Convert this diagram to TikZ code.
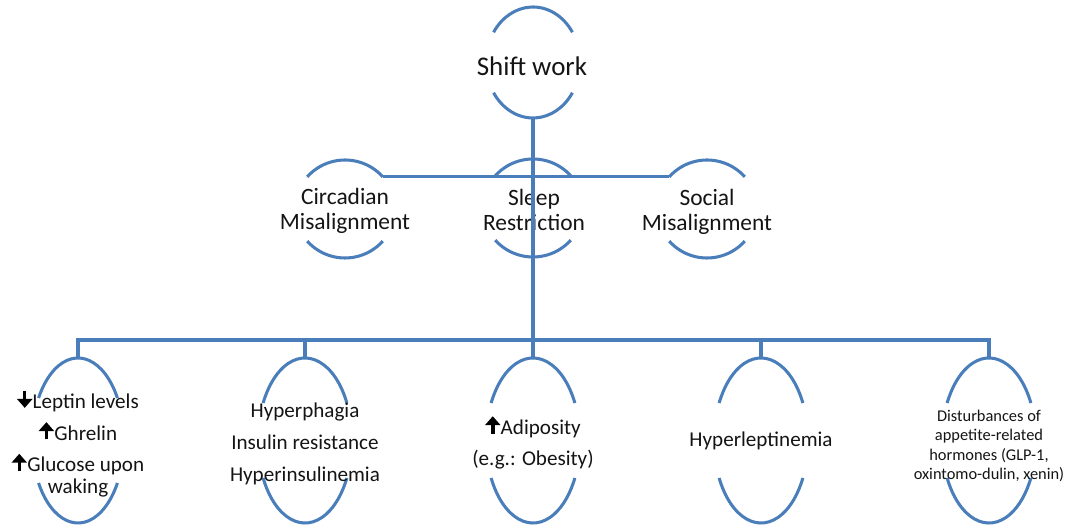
\documentclass[tikz,border=0pt]{standalone}
\usepackage{fontspec}
\setmainfont{Carlito}
\usetikzlibrary{calc,arrows.meta}
\definecolor{ln}{RGB}{74,126,187}
\definecolor{txt}{RGB}{20,20,20}
\newcommand\uparr{\tikz[baseline=-0.3pt]{\draw[draw=black, fill=black, line width=1.5pt, -{Triangle[length=3.8pt,width=6.4pt]}] (0,0) -- (0,7.4pt);}\hspace{0.2pt}}
\newcommand\dnarr{\tikz[baseline=-0.3pt]{\draw[draw=black, fill=black, line width=1.5pt, -{Triangle[length=3.8pt,width=6.4pt]}] (0,7.4pt) -- (0,0);}\hspace{0.2pt}}
% #1 name, #2 x, #3 y (px, downwards), #4 rx, #5 ry, #6 arc half-angle offset
\newcommand\ovalarcs[6]{%
  \coordinate (#1-c) at (#2,-#3);
  \draw[arcline] ($(#1-c)+(#6:#4 and #5)$) coordinate (#1-tr)
     arc[start angle=#6, end angle=180-#6, x radius=#4, y radius=#5] coordinate (#1-tl);
  \draw[arcline] ($(#1-c)+(180+#6:#4 and #5)$) coordinate (#1-bl)
     arc[start angle=180+#6, end angle=360-#6, x radius=#4, y radius=#5] coordinate (#1-br);
  \coordinate (#1-t) at ($(#1-c)+(0,#5)$);
  \coordinate (#1-b) at ($(#1-c)+(0,-#5)$);
}
\tikzset{
  arcline/.style={draw=ln, line width=1.3pt},
  conn/.style={draw=ln, line width=1.3pt},
  lbl/.style={align=center, inner sep=0pt, text=txt},
  t1/.style={lbl, font=\fontsize{11.5}{14}\selectfont},
  t2/.style={lbl, font=\fontsize{10}{10.8}\selectfont},
  t3/.style={lbl, font=\fontsize{9}{13.5}\selectfont},
  t4/.style={lbl, font=\fontsize{7}{8.3}\selectfont},
}
\begin{document}
\begin{tikzpicture}[x=0.015cm, y=0.015cm]
\useasboundingbox (0,0) rectangle (1068,-528);
% oval outlines
\ovalarcs{sw}{533}{62.5}{47}{55.5}{33}
\ovalarcs{ci}{345}{209}{50}{49}{41}
\ovalarcs{sr}{533}{208}{50}{49}{41}
\ovalarcs{so}{707}{209}{50}{49}{41}
\ovalarcs{lep}{78}{440.5}{46}{82.5}{31}
\ovalarcs{hyp}{305}{440.5}{47}{82.5}{27}
\ovalarcs{adi}{533}{440.5}{47}{82.5}{27}
\ovalarcs{hle}{761}{440.5}{47}{82.5}{27}
\ovalarcs{dis}{989}{440.5}{47}{82.5}{27}
% texts
\node[t1] (swt) at (532,-66) {Shift work};
\node[t2] (cit) at (345,-211) {Circadian\\Misalignment};
\node[t2] (srt) at (534,-210) {Sleep\\Restriction};
\node[t2] (sot) at (707,-212) {Social\\Misalignment};
\node[t3] (lept) at (78,-443) {\dnarr Leptin levels\\\uparr Ghrelin\\\uparr Glucose upon\\[-4.2pt]waking};
\node[t3] (hypt) at (305,-444) {Hyperphagia\\Insulin resistance\\Hyperinsulinemia};
\node[t3] (adit) at (533,-442) {\uparr Adiposity\\(e.g.: Obesity)};
\node[t3] (hlet) at (761,-441) {Hyperleptinemia};
\node[t4] (dist) at (989,-446) {Disturbances of\\appetite-related\\hormones (GLP-1,\\oxintomo-dulin, xenin)};
% connectors
\coordinate (busm) at (533,-340);
\draw[conn] (ci-tr) -- (so-tl);
\draw[conn] (sw-b) -- (busm);
\draw[conn] (lep-t) -- (lep-t |- busm) -| (dis-t);
\draw[conn] (hyp-t) -- (hyp-t |- busm);
\draw[conn] (adi-t) -- (adi-t |- busm);
\draw[conn] (hle-t) -- (hle-t |- busm);
\end{tikzpicture}
\end{document}
